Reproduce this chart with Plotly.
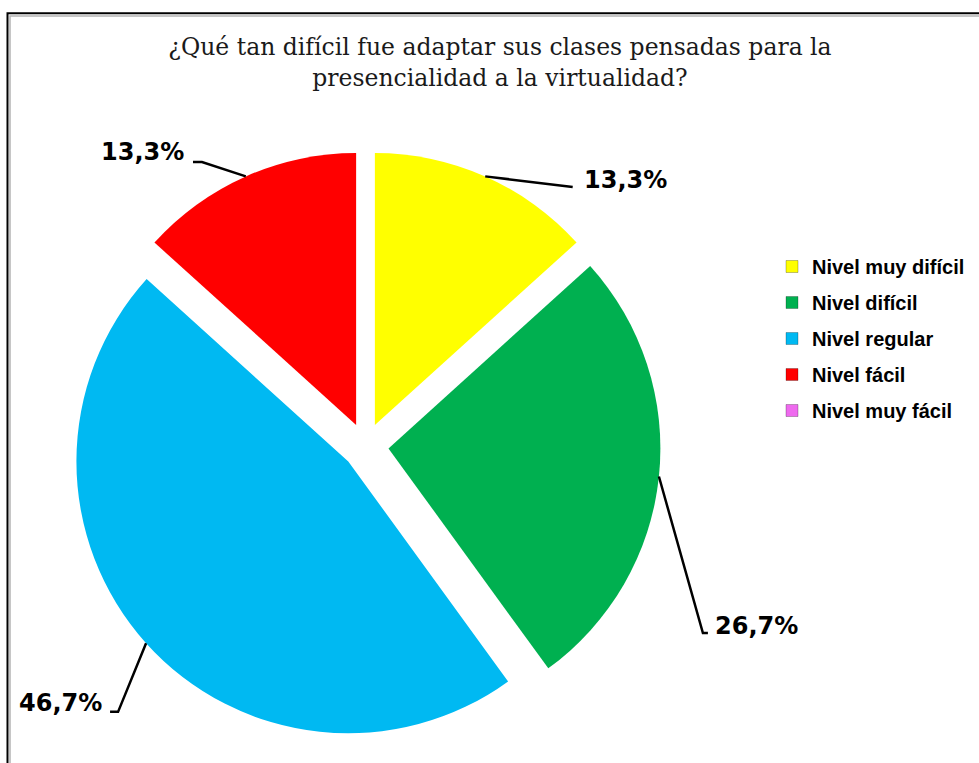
import math
import plotly.graph_objects as go

# ---- data ----
categories = ["Nivel muy difícil", "Nivel difícil", "Nivel regular", "Nivel fácil", "Nivel muy fácil"]
percentages = [13.3, 26.7, 46.7, 13.3, 0.0]
colors = ["#FFFF00", "#00B050", "#00B9F2", "#FF0000", "#EE6AEE"]
title_text = "¿Qué tan difícil fue adaptar sus clases pensadas para la<br>presencialidad a la virtualidad?"

# ---- layout constants (pixels) ----
W, H = 979, 763
PULL = 0.085
dom_x = [70.5 / W, 660.5 / W]
dom_y = [1 - 741 / H, 1 - 151 / H]

# leader line geometry, offsets from each slice's arc anchor (pixels)
# (elbow, end, text anchor point, text xanchor)
leader_style = [
    ((87.5, 10.6), (87.5, 10.6), (97, 3.5), "left"),
    ((44, 156.5), (49, 156.5), (54, 149), "left"),
    ((-28, 68.7), (-36, 68.7), (-42, 60), "right"),
    ((-43.8, -14.3), (-52.8, -14.3), (-60, -24), "right"),
    None,
]

fig = go.Figure()
fig.add_trace(go.Pie(
    labels=categories,
    values=percentages,
    marker=dict(colors=colors, line=dict(width=0)),
    sort=False,
    direction="clockwise",
    rotation=0,
    pull=[PULL] * len(percentages),
    textinfo="none",
    showlegend=False,
    hovertemplate="%{label}: %{value}%<extra></extra>",
    domain=dict(x=dom_x, y=dom_y),
))

# legend entries (one per category, so rows can be spaced like the original)
for i, (cat, col) in enumerate(zip(categories, colors)):
    fig.add_trace(go.Scatter(
        x=[None], y=[None], mode="markers", name=cat,
        legendgroup=f"g{i}",
        marker=dict(symbol="square", size=12, color=col,
                    line=dict(width=1, color="rgba(0,0,0,0.25)")),
        hoverinfo="skip",
    ))

# compute pie geometry as plotly does (margins are zero)
aw = W * (dom_x[1] - dom_x[0])
ah = H * (dom_y[1] - dom_y[0])
r = min(aw, ah) / 2 / (1 + PULL)
cx = W * (dom_x[0] + dom_x[1]) / 2
cy = H * (1 - (dom_y[0] + dom_y[1]) / 2)
total = sum(percentages)

def px2paper(x, y):
    return x / W, 1 - y / H

annotations = []
shapes = []
cum = 0.0
for val, style in zip(percentages, leader_style):
    start = cum
    cum += val
    if style is None or val == 0:
        continue
    mid = (start + val / 2) / total * 2 * math.pi
    dx, dy = math.sin(mid), -math.cos(mid)
    ax_ = cx + (r * (1 + PULL)) * dx
    ay_ = cy + (r * (1 + PULL)) * dy
    (ex, ey), (fx, fy), (tx, ty), anchor = style
    p0 = px2paper(ax_, ay_)
    p1 = px2paper(ax_ + ex, ay_ + ey)
    p2 = px2paper(ax_ + fx, ay_ + fy)
    shapes.append(dict(
        type="path", xref="paper", yref="paper",
        path=f"M {p0[0]},{p0[1]} L {p1[0]},{p1[1]} L {p2[0]},{p2[1]}",
        line=dict(color="black", width=2.5),
    ))
    tp = px2paper(ax_ + tx, ay_ + ty)
    label = f"{val:.1f}".replace(".", ",") + "%"
    annotations.append(dict(
        x=tp[0], y=tp[1], xref="paper", yref="paper",
        text=label, showarrow=False, xanchor=anchor, yanchor="middle",
        font=dict(family="DejaVu Sans", size=24, color="black", weight="bold"),
    ))

# chart border (outer black, inner grey), running off the right/bottom edge
shapes.append(dict(type="rect", xref="paper", yref="paper",
                   x0=7.5 / W, y0=1 - 13.3 / H, x1=1.05, y1=-0.05,
                   line=dict(color="black", width=2)))
shapes.append(dict(type="rect", xref="paper", yref="paper",
                   x0=10 / W, y0=1 - 16 / H, x1=1.05, y1=-0.05,
                   line=dict(color="#B4B4B4", width=1.5)))

fig.update_layout(
    width=W, height=H, autosize=False,
    margin=dict(l=0, r=0, t=0, b=0),
    paper_bgcolor="white", plot_bgcolor="white",
    xaxis=dict(visible=False), yaxis=dict(visible=False),
    title=dict(text=title_text, x=500 / W, xanchor="center", xref="paper",
               y=1 - 55 / H, yanchor="top", yref="container",
               font=dict(family="DejaVu Serif", size=23.5, color="#1A1A1A")),
    legend=dict(x=772 / W, xanchor="left", y=1 - 247 / H, yanchor="top",
                font=dict(family="Liberation Sans", size=20, color="black", weight="bold"),
                tracegroupgap=7, bgcolor="rgba(0,0,0,0)"),
    shapes=shapes,
    annotations=annotations,
)

fig.write_html("out.html",
               config={"displayModeBar": False},
               post_script="document.body.style.margin='0';document.body.style.overflow='hidden';")
